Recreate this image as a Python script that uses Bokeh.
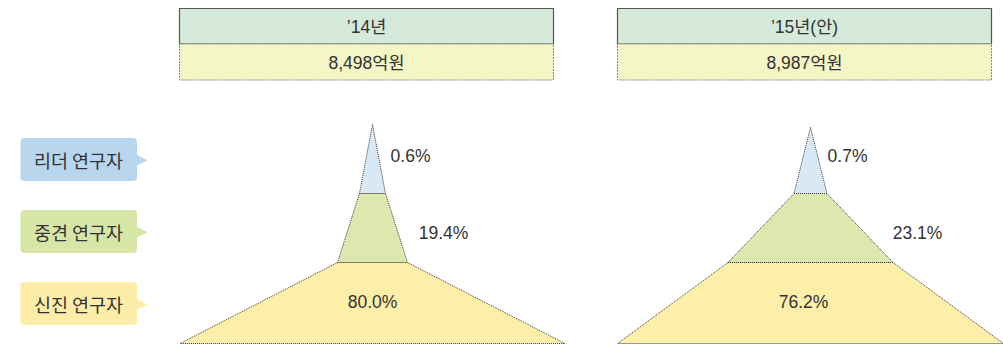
from bokeh.plotting import figure
from bokeh.models import Range1d
from bokeh.core.properties import value
from bokeh.embed import file_html
from bokeh.resources import INLINE

# ---- data ----
years = ["’14년", "’15년(안)"]
totals = ["8,498억원", "8,987억원"]
groups = ["리더 연구자", "중견 연구자", "신진 연구자"]
share_2014 = [0.6, 19.4, 80.0]
share_2015 = [0.7, 23.1, 76.2]
shares = [share_2014, share_2015]

# ---- layout (positions / styles) ----
W, H = 1003, 345
FONT = "Liberation Sans, Noto Sans CJK KR"
KFONT = "Noto Sans CJK KR"
panel_left = [179, 617]
panel_width = 374
centers = [372, 810]
apex_y = [124, 127]
tier_y = [193, 262, 343]
half_w = [[13, 35, 192.5], [16.5, 82.5, 193]]
label_pos = [
    [(410, 155), (443, 232), (372, 301)],
    [(847, 155), (917, 232), (803, 301)],
]
tier_fill = ["#d9e8f5", "#dde8ae", "#fdeea9"]
box_fill = ["#b9d6ef", "#d7e6a7", "#feeda8"]
box_y = [159, 231, 303]

p = figure(width=W, height=H, output_backend="svg", toolbar_location=None,
           x_range=Range1d(0, W), y_range=Range1d(H, 0),
           min_border=0, outline_line_color=None)
p.axis.visible = False
p.grid.visible = False
p.background_fill_color = "white"
p.border_fill_color = "white"

# headers
for i in range(2):
    l = panel_left[i]
    r = l + panel_width
    p.quad(left=[l], right=[r], top=[8], bottom=[43.5], fill_color="#d5eadb",
           line_color="#555555", line_width=1.2)
    p.quad(left=[l], right=[r], top=[43.5], bottom=[79.5], fill_color="#f4f6c5",
           line_color="#8a8a8a", line_width=1, line_dash="2 1")
    p.text(x=[(l + r) / 2], y=[26], text=[years[i]], text_font=value(FONT),
           text_font_size="17.5px", text_color="#333333", text_align="center",
           text_baseline="middle")
    p.text(x=[(l + r) / 2], y=[62], text=[totals[i]], text_font=value(FONT),
           text_font_size="17.5px", text_color="#333333", text_align="center",
           text_baseline="middle")

# pyramids
for i in range(2):
    cx = centers[i]
    xs, ys = [], []
    hw = half_w[i]
    xs.append([cx, cx + hw[0], cx - hw[0]])
    ys.append([apex_y[i], tier_y[0], tier_y[0]])
    for k in range(1, 3):
        xs.append([cx - hw[k - 1], cx + hw[k - 1], cx + hw[k], cx - hw[k]])
        ys.append([tier_y[k - 1], tier_y[k - 1], tier_y[k], tier_y[k]])
    p.patches(xs=xs, ys=ys, fill_color=tier_fill, line_color="#3a3a3a",
              line_width=1, line_dash="1 1")
    lx = [pt[0] for pt in label_pos[i]]
    ly = [pt[1] for pt in label_pos[i]]
    txt = [f"{v:.1f}%" for v in shares[i]]
    p.text(x=lx, y=ly, text=txt, text_font=value(FONT), text_font_size="17.5px",
           text_color="#333333", text_align="center", text_baseline="middle")

# group label boxes
for k in range(3):
    cy = box_y[k]
    p.patch(x=[136, 147, 136], y=[cy - 5, cy + 1, cy + 6], fill_color=box_fill[k],
            line_color=None)
    p.quad(left=[20], right=[136.5], top=[cy - 21.5], bottom=[cy + 21.5],
           fill_color=box_fill[k], line_color=None, border_radius=4)
    p.text(x=[78], y=[cy], text=[groups[k]], text_font=value(KFONT),
           text_font_size="18.5px", text_color="#333333", text_align="center",
           text_baseline="middle")

open("out.html", "w").write(file_html(p, INLINE))
